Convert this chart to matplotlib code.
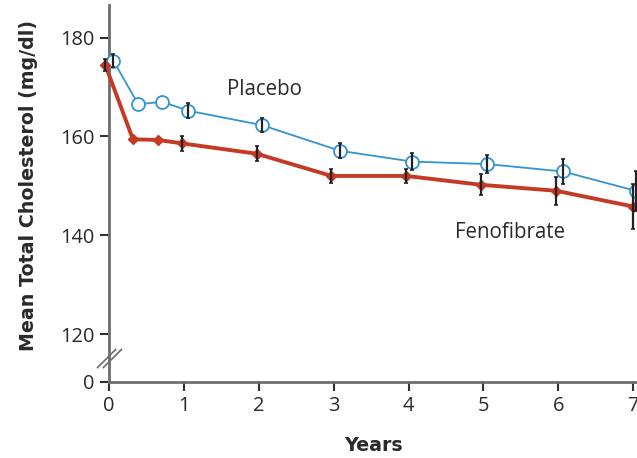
import numpy as np
import matplotlib
matplotlib.use("Agg")
import matplotlib.pyplot as plt
from matplotlib.path import Path

# Study visits (years) and mean total cholesterol (mg/dl) with error half-widths
placebo_years = [0.06, 0.39, 0.71, 1.06, 2.04, 3.08, 4.05, 5.05, 6.06, 7.03]
placebo_chol = [175.3, 166.5, 167.0, 165.2, 162.3, 157.1, 154.9, 154.4, 152.9, 149.0]
placebo_err = [1.3, 0.0, 0.0, 1.5, 1.5, 1.5, 1.7, 1.9, 2.5, 4.0]

feno_years = [-0.05, 0.32, 0.65, 0.97, 1.97, 2.97, 3.97, 4.97, 5.97, 7.0]
feno_chol = [174.5, 159.4, 159.3, 158.6, 156.5, 152.0, 152.0, 150.2, 149.0, 145.8]
feno_err = [1.2, 0.0, 0.0, 1.5, 1.5, 1.45, 1.5, 2.1, 2.8, 4.5]

x_ticks = [0, 1, 2, 3, 4, 5, 6, 7]
y_ticks = [0, 120, 140, 160, 180]

# Broken y axis: values below 120 are compressed into a short segment
BREAK = 120.0
ZERO_POS = 110.35


def forward(v):
    v = np.asarray(v, dtype=float)
    return np.where(v >= BREAK, v, ZERO_POS + v * (BREAK - ZERO_POS) / BREAK)


def inverse(u):
    u = np.asarray(u, dtype=float)
    return np.where(u >= BREAK, u, (u - ZERO_POS) * BREAK / (BREAK - ZERO_POS))


def draw_errors(ax, xs, ys, errs):
    xs, ys, errs = map(np.asarray, (xs, ys, errs))
    keep = errs > 0
    ax.errorbar(xs[keep], ys[keep], yerr=errs[keep], fmt="none",
                ecolor="#222222", elinewidth=1.6, capsize=1.5, capthick=1.2,
                zorder=4, clip_on=False)


SPINE = "#6e6e6e"
TEXT = "#2a2a2a"
BLUE = "#3493d1"
RED = "#c43a24"

fig = plt.figure(figsize=(6.37, 4.58), dpi=100)
ax = fig.add_axes([109 / 637, 76.3 / 458, 528 / 637, 376.7 / 458])
ax.set_yscale("function", functions=(forward, inverse))
ax.set_ylim(0, 186.6)
ax.set_xlim(0, 7.05)

# Placebo series: thin blue line, open circles
ax.plot(placebo_years, placebo_chol, color=BLUE, lw=1.3, marker="o", ms=9.3,
        mfc="white", mec=BLUE, mew=1.3, zorder=3, clip_on=False)
draw_errors(ax, placebo_years, placebo_chol, placebo_err)

# Fenofibrate series: heavy red line, small diamonds
ax.plot(feno_years, feno_chol, color=RED, lw=2.8, marker="D", ms=5,
        mfc=RED, mec=RED, zorder=3, clip_on=False)
draw_errors(ax, feno_years, feno_chol, feno_err)

ax.text(2.08, 169.4, "Placebo", family="Open Sans", fontsize=14.8,
        color=TEXT, ha="center", va="center")
ax.text(5.36, 140.6, "Fenofibrate", family="Open Sans", fontsize=14.8,
        color=TEXT, ha="center", va="center")

# Axes styling
for side in ("top", "right"):
    ax.spines[side].set_visible(False)
for side in ("left", "bottom"):
    ax.spines[side].set_color(SPINE)
    ax.spines[side].set_linewidth(2.0)

ax.set_xticks(x_ticks)
ax.set_yticks(y_ticks)
ax.tick_params(axis="both", direction="out", length=6.5, width=1.5,
               color="#333333", labelsize=14.4, labelcolor=TEXT, pad=4)
for lab in ax.get_xticklabels() + ax.get_yticklabels():
    lab.set_family("Open Sans")

ax.set_xlabel("Years", fontsize=13.7, fontweight="bold", color=TEXT,
              family="DejaVu Sans")
ax.xaxis.set_label_coords(0.5, -0.144)
ax.set_ylabel("Mean Total Cholesterol (mg/dl)", fontsize=13.7,
              fontweight="bold", color=TEXT, family="DejaVu Sans")
ax.yaxis.set_label_coords(-0.134, 0.522)

# Break marks on the y axis between 0 and 120
brk = Path([(-1.3, -1.0), (0.7, 1.0), (-0.7, -1.0), (1.3, 1.0)],
           [Path.MOVETO, Path.LINETO, Path.MOVETO, Path.LINETO])
ax.plot([0], [60], transform=ax.get_yaxis_transform(), marker=brk,
        ms=18, mec=SPINE, mew=1.2, ls="none", clip_on=False, zorder=5)

fig.savefig("out.png", dpi=100)
